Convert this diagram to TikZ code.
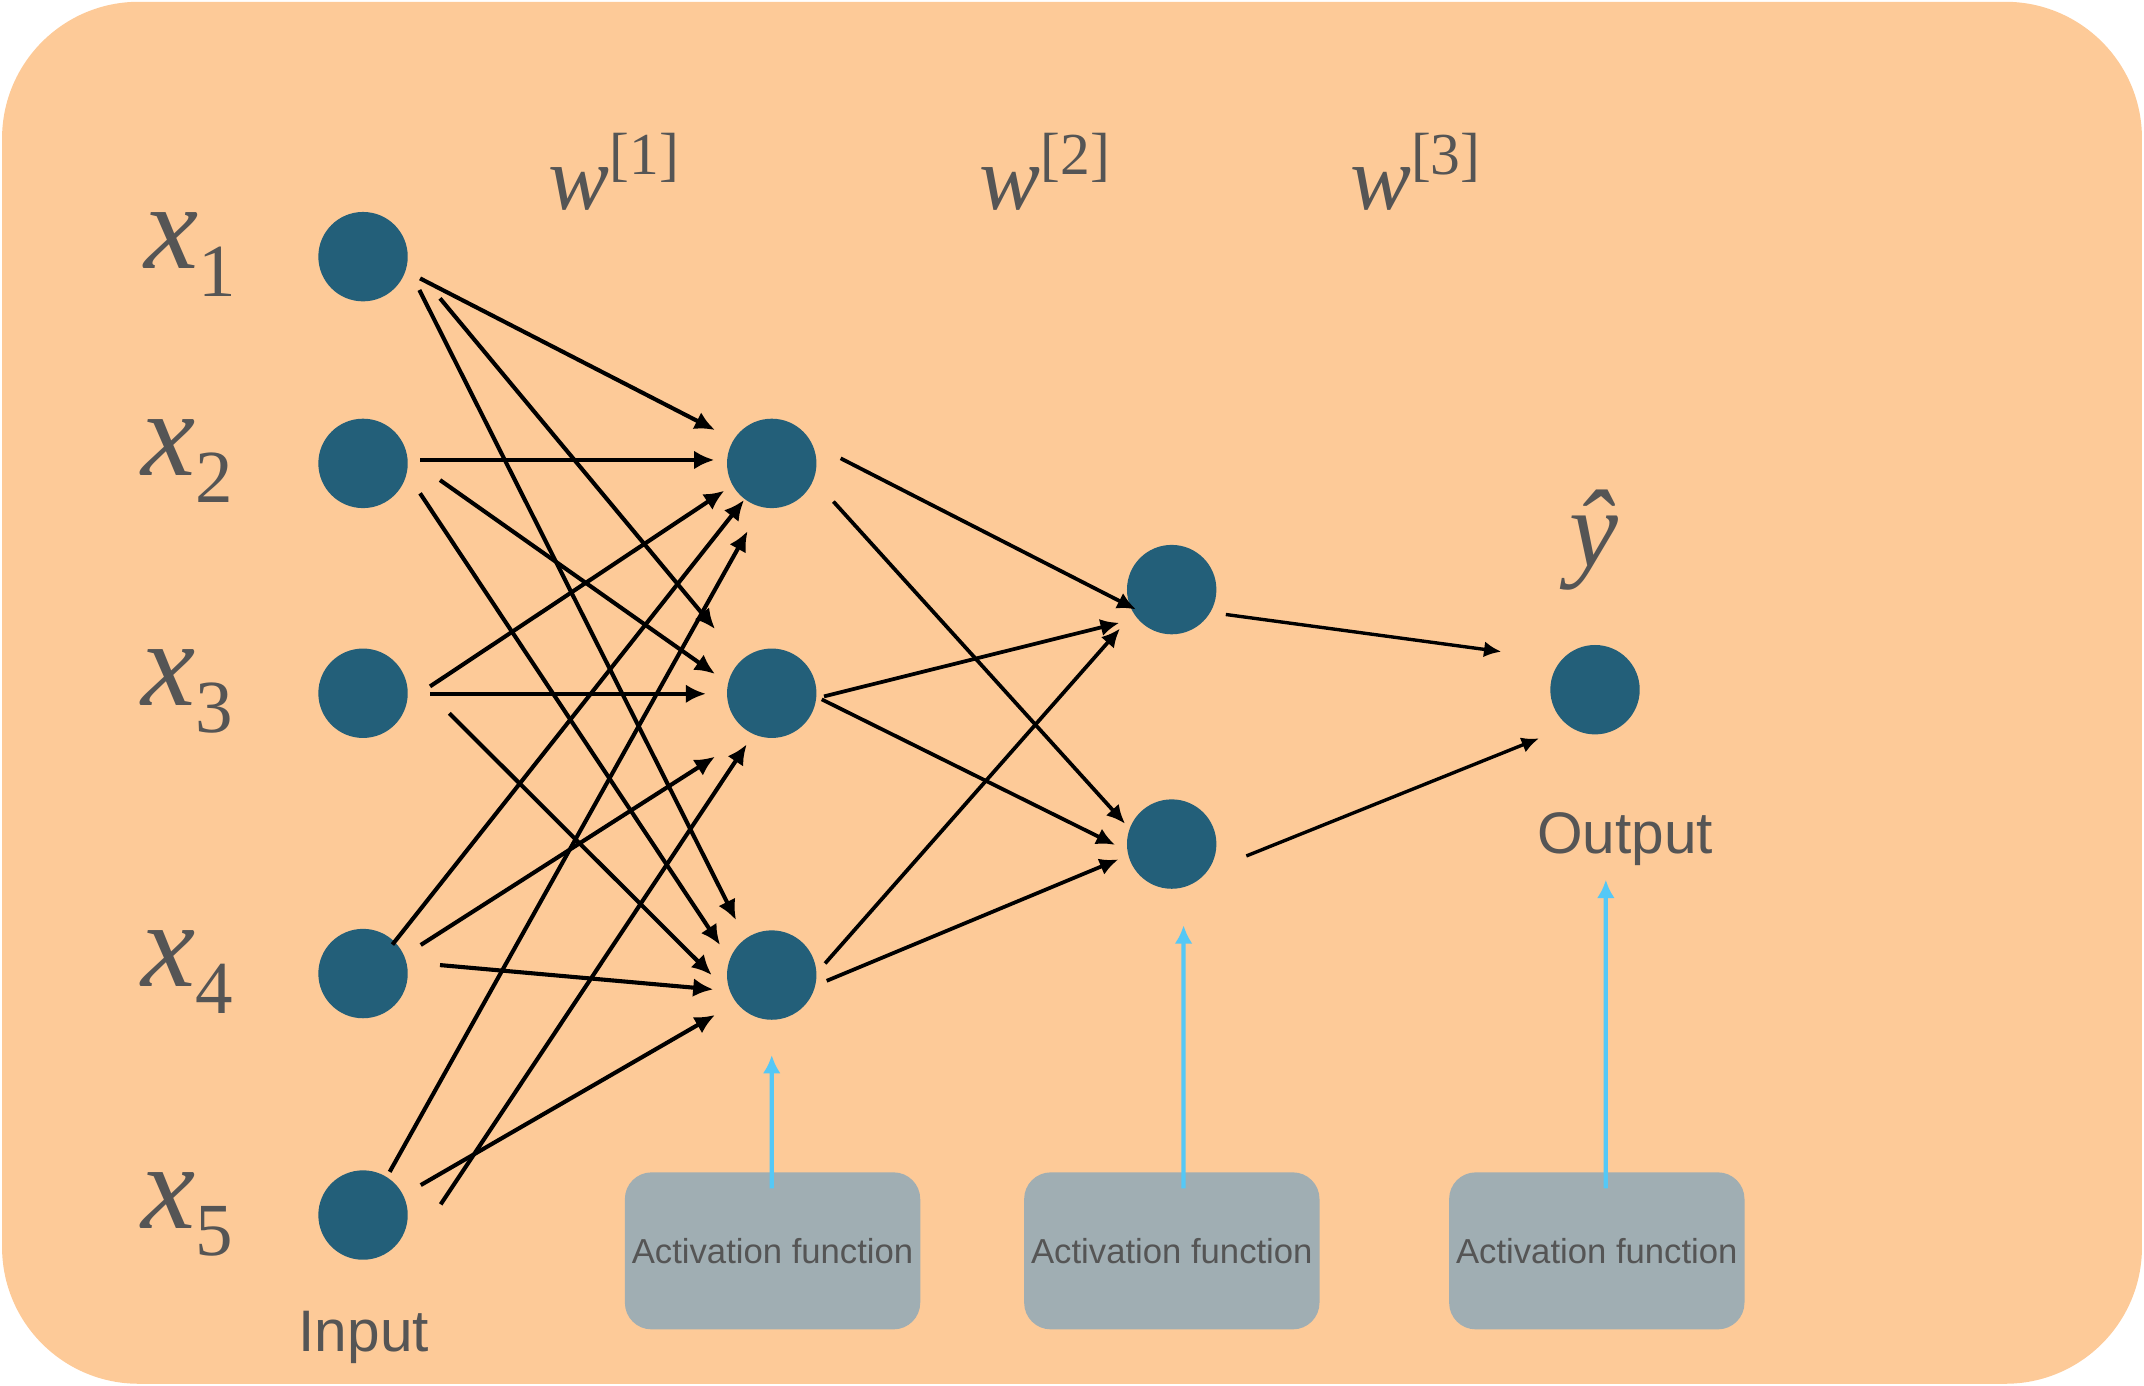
\documentclass[tikz,border=0pt]{standalone}
\usepackage{fontspec}
\setmainfont{Liberation Serif}
\newfontfamily\sansf{Liberation Sans}
\usetikzlibrary{arrows.meta}
\definecolor{bgpeach}{HTML}{FDCA98}
\definecolor{neuroncol}{HTML}{235F79}
\definecolor{afboxcol}{HTML}{A0AEB3}
\definecolor{txtgray}{HTML}{555555}
\definecolor{cyanarr}{HTML}{55C8F6}
\newcommand\xlab[1]{{\fontsize{52}{52}\selectfont\itshape x}{\fontsize{32}{32}\selectfont\raisebox{-11.7pt}{#1}}}
\newcommand\wlab[1]{{\fontsize{39}{39}\selectfont\itshape w}{\fontsize{25.4}{25.4}\selectfont\raisebox{14.6pt}{[#1]}}}
\begin{document}
\begin{tikzpicture}[x=0.02051cm,y=-0.02051cm,
  neuron/.style={circle,fill=neuroncol,minimum size=1.341cm,inner sep=0pt},
  afbox/.style={fill=afboxcol,rounded corners=0.4cm,minimum width=4.43cm,minimum height=2.355cm,inner sep=0pt,
    text=txtgray,font=\sansf\fontsize{14.8}{14.8}\selectfont},
  lab/.style={inner sep=0pt,text=txtgray},
  conn/.style={line width=1.75pt,-{Latex[length=8.6pt,width=8pt]}},
  connb/.style={line width=1.6pt,-{Latex[length=8pt,width=7.4pt]}},
  connc/.style={line width=1.45pt,-{Latex[length=7.4pt,width=6.8pt]}},
  actarrow/.style={cyanarr,line width=1.8pt,-{Latex[length=7.8pt,width=7.6pt]}}]
\useasboundingbox (0,0) rectangle (1568,1013.6);
\fill[bgpeach,rounded corners=2.05cm] (1.5,1.3) rectangle (1566.5,1012);

% neurons
\node[neuron] (x1) at (265.5,187.7) {};
\node[neuron] (x2) at (265.5,338.9) {};
\node[neuron] (x3) at (265.5,507) {};
\node[neuron] (x4) at (265.5,712) {};
\node[neuron] (x5) at (265.5,888.6) {};
\node[neuron] (h1) at (564.4,338.9) {};
\node[neuron] (h2) at (564.4,507) {};
\node[neuron] (h3) at (564.4,713.1) {};
\node[neuron] (g1) at (856.9,431.2) {};
\node[neuron] (g2) at (856.9,617.3) {};
\node[neuron] (o) at (1166.5,504.4) {};

% labels
\node[lab,anchor=base west] (lx1) at (105,196.7) {\xlab{1}};
\node[lab,anchor=base west] (lx2) at (103,347.4) {\xlab{2}};
\node[lab,anchor=base west] (lx3) at (103,516) {\xlab{3}};
\node[lab,anchor=base west] (lx4) at (103,721.5) {\xlab{4}};
\node[lab,anchor=base west] (lx5) at (103,898.5) {\xlab{5}};
\node[lab,anchor=base west] (w1) at (401,153) {\wlab{1}};
\node[lab,anchor=base west] (w2) at (716,153) {\wlab{2}};
\node[lab,anchor=base west] (w3) at (987,153) {\wlab{3}};
\node[lab,anchor=base] (yhat) at (1166,414.6) {\fontsize{47}{47}\selectfont\itshape ŷ};
\node[lab,anchor=base,font=\sansf\fontsize{25}{25}\selectfont] (outlab) at (1188.5,624) {Output};
\node[lab,anchor=base,font=\sansf\fontsize{25}{25}\selectfont] (inlab) at (266,988.6) {Input};

% activation boxes
\node[afbox] (af1) at (565,914.8) {Activation function};
\node[afbox] (af2) at (857,914.8) {Activation function};
\node[afbox] (af3) at (1167.8,914.8) {Activation function};

% input -> hidden 1
\draw[conn] ([shift={(41.7,15.9)}]x1.center) -- ([shift={(-41.5,-24.4)}]h1.center);
\draw[conn] ([shift={(56.3,30.5)}]x1.center) -- ([shift={(-41.5,-47)}]h2.center);
\draw[conn] ([shift={(41.2,24.4)}]x1.center) -- ([shift={(-26.1,-40.2)}]h3.center);
\draw[conn] ([shift={(41.7,-2.5)}]x2.center) -- ([shift={(-42,-2.5)}]h1.center);
\draw[conn] ([shift={(56.3,12.2)}]x2.center) -- ([shift={(-41.5,-14.1)}]h2.center);
\draw[conn] ([shift={(41.7,21.9)}]x2.center) -- ([shift={(-37.8,-22)}]h3.center);
\draw[conn] ([shift={(49,-5)}]x3.center) -- ([shift={(-34.7,20)}]h1.center);
\draw[conn] ([shift={(49,0.4)}]x3.center) -- ([shift={(-48.1,0.4)}]h2.center);
\draw[conn] ([shift={(63.1,14.7)}]x3.center) -- ([shift={(-43.9,0)}]h3.center);
\draw[conn] ([shift={(21.5,-21.2)}]x4.center) -- ([shift={(-20.3,26.8)}]h1.center);
\draw[conn] ([shift={(42.2,-20.9)}]x4.center) -- ([shift={(-41.5,46.4)}]h2.center);
\draw[conn] ([shift={(56.3,-6.2)}]x4.center) -- ([shift={(-42.7,10.5)}]h3.center);
\draw[conn] ([shift={(19.5,-31.6)}]x5.center) -- ([shift={(-17.6,49.5)}]h1.center);
\draw[conn] ([shift={(56.8,-7.8)}]x5.center) -- ([shift={(-18.3,37.4)}]h2.center);
\draw[conn] ([shift={(42.2,-21.9)}]x5.center) -- ([shift={(-41.5,29.2)}]h3.center);

% hidden 1 -> hidden 2
\draw[connb] ([shift={(50.4,-3.7)}]h1.center) -- ([shift={(-26.1,14.5)}]g1.center);
\draw[connb] ([shift={(45.1,27.9)}]h1.center) -- ([shift={(-34.1,-14.9)}]g2.center);
\draw[connb] ([shift={(38.2,2.3)}]h2.center) -- ([shift={(-38.3,24.3)}]g1.center);
\draw[connb] ([shift={(36.6,4.5)}]h2.center) -- ([shift={(-41.4,0.6)}]g2.center);
\draw[connb] ([shift={(39,-8.5)}]h3.center) -- ([shift={(-37.8,28.5)}]g1.center);
\draw[connb] ([shift={(40.2,4.2)}]h3.center) -- ([shift={(-39,11.2)}]g2.center);

% hidden 2 -> output
\draw[connc] ([shift={(39.6,18.2)}]g1.center) -- ([shift={(-68.5,-27.8)}]o.center);
\draw[connc] ([shift={(54.6,8.7)}]g2.center) -- ([shift={(-41,35.6)}]o.center);

% activation arrows
\draw[actarrow] ([shift={(-0.6,12)}]af1.north) -- ([shift={(0,58.5)}]h3.center);
\draw[actarrow] ([shift={(8.6,12)}]af2.north) -- ([shift={(8.7,59.4)}]g2.center);
\draw[actarrow] ([shift={(6.6,12)}]af3.north) -- ([shift={(7.9,139)}]o.center);
\end{tikzpicture}
\end{document}
